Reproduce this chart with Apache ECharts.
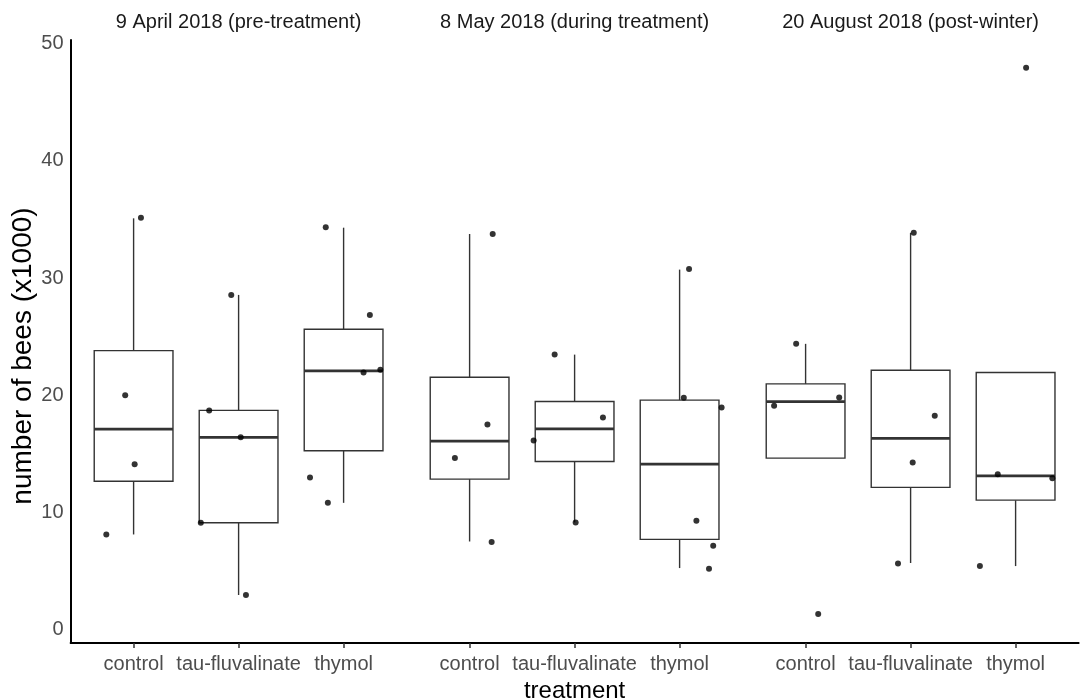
<!DOCTYPE html>
<html><head><meta charset="utf-8">
<script src="https://cdn.jsdelivr.net/npm/echarts@6/dist/echarts.min.js"></script>
<style>html,body{margin:0;padding:0;background:#fff}#c{width:1083px;height:700px}</style>
</head><body><div id="c"></div>
<script>
const facets = ['9 April 2018 (pre-treatment)', '8 May 2018 (during treatment)', '20 August 2018 (post-winter)'];
const treatments = ['control', 'tau-fluvalinate', 'thymol'];
const yTicks = [0, 10, 20, 30, 40, 50];

// box statistics per treatment: [lower whisker, Q1, median, Q3, upper whisker]
const boxApril  = [[8.1, 12.65, 17.1, 23.8, 35.1], [2.93, 9.1, 16.4, 18.7, 28.56], [10.8, 15.25, 22.07, 25.62, 34.3]];
const boxMay    = [[7.5, 12.83, 16.07, 21.53, 33.76], [9.13, 14.33, 17.12, 19.45, 23.46], [5.23, 7.68, 14.11, 19.57, 30.72]];
const boxAugust = [[14.62, 14.62, 19.45, 20.96, 24.38], [5.66, 12.12, 16.3, 22.13, 33.86], [5.4, 11.03, 13.11, 21.93, 21.93]];

// jittered colonies per treatment: [horizontal jitter (in category units), number of bees x1000]
const ptsApril = [
  [[0.07, 35.15], [-0.08, 20.0], [0.01, 14.1], [-0.26, 8.1]],
  [[-0.07, 28.56], [-0.28, 18.69], [0.02, 16.41], [-0.36, 9.1], [0.07, 2.93]],
  [[-0.17, 34.33], [0.25, 26.85], [0.35, 22.16], [0.19, 21.93], [-0.32, 12.97], [-0.15, 10.81]]
];
const ptsMay = [
  [[0.22, 33.76], [0.17, 17.49], [-0.14, 14.62], [0.21, 7.45]],
  [[-0.19, 23.46], [0.27, 18.09], [-0.39, 16.13], [0.01, 9.13]],
  [[0.09, 30.77], [0.04, 19.77], [0.40, 18.94], [0.16, 9.27], [0.32, 7.14], [0.28, 5.18]]
];
const ptsAugust = [
  [[-0.09, 24.38], [0.32, 19.8], [-0.30, 19.09], [0.12, 1.31]],
  [[0.03, 33.86], [0.23, 18.23], [0.02, 14.25], [-0.12, 5.63]],
  [[0.10, 47.97], [-0.17, 13.25], [0.35, 12.91], [-0.34, 5.4]]
];

const boxes = [boxApril, boxMay, boxAugust];
const points = [ptsApril, ptsMay, ptsAugust];

// facet layout on a continuous x scale (ggplot-like discrete expansion of 0.6)
const facetSpan = treatments.length + 0.2;
const pos = (f, i) => f * facetSpan + 0.6 + i;
const xMax = facets.length * facetSpan;

const boxData = [], ptData = [], catTicks = [], catLabel = {}, facetCenters = [], facetLabel = {};
facets.forEach((fn, f) => {
  const c = +(f * facetSpan + facetSpan / 2).toFixed(4);
  facetCenters.push(c); facetLabel[c] = fn;
  treatments.forEach((t, i) => {
    const x = +pos(f, i).toFixed(4);
    catTicks.push(x); catLabel[x] = t;
    boxData.push([x].concat(boxes[f][i]));
    points[f][i].forEach(p => ptData.push([x + p[0], p[1]]));
  });
});

const FONT = 'Liberation Sans, Arial, Helvetica, sans-serif';
const stroke = '#333333';

function renderBox(params, api) {
  const x = api.value(0);
  const lo = api.coord([x, api.value(1)]);
  const q1 = api.coord([x, api.value(2)]);
  const md = api.coord([x, api.value(3)]);
  const q3 = api.coord([x, api.value(4)]);
  const hi = api.coord([x, api.value(5)]);
  const w = api.size([0.75, 0])[0];
  const cx = lo[0];
  return {
    type: 'group',
    children: [
      { type: 'line', shape: { x1: cx, y1: hi[1], x2: cx, y2: q3[1] }, style: { stroke, lineWidth: 1.4 } },
      { type: 'line', shape: { x1: cx, y1: q1[1], x2: cx, y2: lo[1] }, style: { stroke, lineWidth: 1.4 } },
      { type: 'rect', shape: { x: cx - w / 2, y: q3[1], width: w, height: q1[1] - q3[1] }, style: { fill: '#fff', stroke, lineWidth: 1.4 } },
      { type: 'line', shape: { x1: cx - w / 2, y1: md[1], x2: cx + w / 2, y2: md[1] }, style: { stroke, lineWidth: 2.8 } }
    ]
  };
}

const chart = echarts.init(document.getElementById('c'), null, { renderer: 'canvas' });
chart.setOption({
  backgroundColor: '#fff',
  animation: false,
  textStyle: { fontFamily: FONT },
  grid: { left: 70.6, right: 4.4, top: 40, bottom: 57, outerBoundsMode: 'none' },
  xAxis: [
    {
      type: 'value', min: 0, max: xMax, position: 'bottom',
      name: 'treatment', nameLocation: 'middle', nameGap: 32,
      nameTextStyle: { fontSize: 24, color: '#000', fontFamily: FONT },
      axisLine: { show: true, onZero: false, lineStyle: { color: '#000', width: 2 } },
      axisTick: { show: true, customValues: catTicks, length: 5, lineStyle: { color: stroke, width: 1.5 } },
      axisLabel: { show: true, customValues: catTicks, margin: 11, fontSize: 20, color: '#4d4d4d', fontFamily: FONT,
        formatter: v => catLabel[+(+v).toFixed(4)] || '' },
      splitLine: { show: false }
    },
    {
      type: 'value', min: 0, max: xMax, position: 'top',
      axisLine: { show: false, onZero: false }, axisTick: { show: false }, splitLine: { show: false },
      axisLabel: { show: true, customValues: facetCenters, margin: 8, fontSize: 20, color: '#1a1a1a', fontFamily: FONT,
        formatter: v => facetLabel[+(+v).toFixed(4)] || '' }
    }
  ],
  yAxis: {
    type: 'value', min: -1.17, max: 50.33,
    axisLine: { show: true, onZero: false, lineStyle: { color: '#000', width: 2 } },
    axisTick: { show: false },
    axisLabel: { customValues: yTicks, margin: 7, fontSize: 20, color: '#4d4d4d', fontFamily: FONT },
    splitLine: { show: false }
  },
  graphic: [{
    type: 'text', x: 23, y: 356, rotation: Math.PI / 2,
    style: { text: 'number of bees (x1000)', font: '28px ' + FONT, fill: '#000', align: 'center', verticalAlign: 'middle' }
  }],
  series: [
    {
      type: 'custom', name: 'box', xAxisIndex: 0, yAxisIndex: 0,
      renderItem: renderBox,
      encode: { x: 0, y: [1, 2, 3, 4, 5] },
      data: boxData, z: 2, silent: true
    },
    {
      type: 'scatter', name: 'colonies', xAxisIndex: 0, yAxisIndex: 0,
      data: ptData, symbol: 'circle', symbolSize: 6,
      itemStyle: { color: '#000' }, z: 5, silent: true
    }
  ]
});
</script></body></html>
